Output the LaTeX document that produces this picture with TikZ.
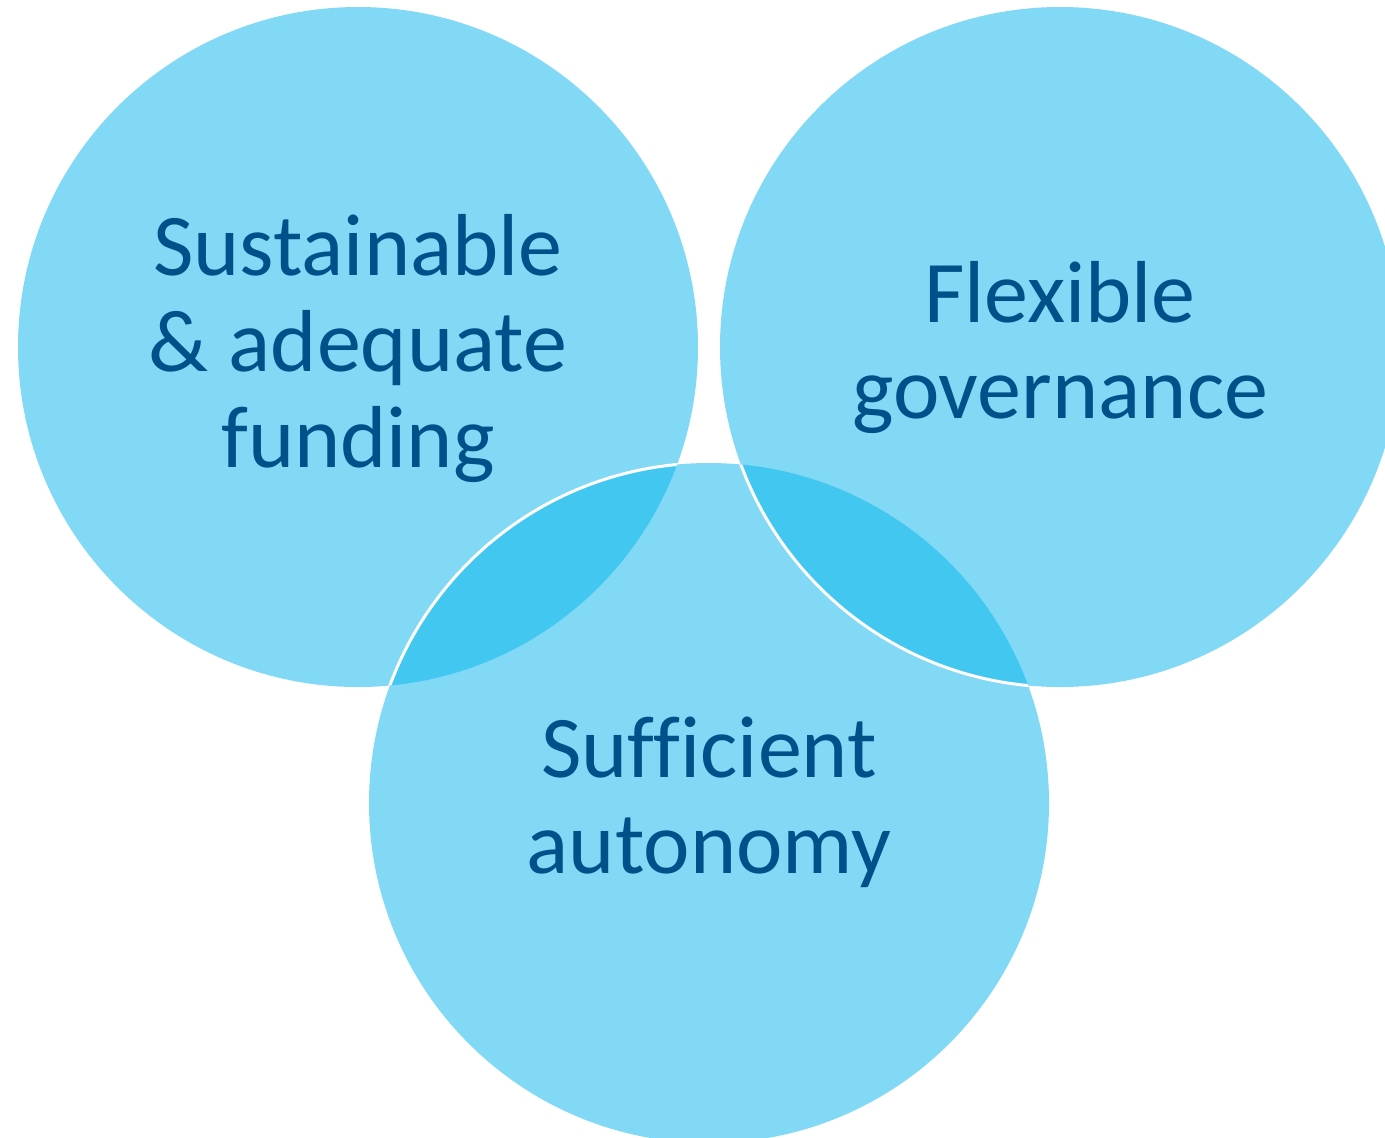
\documentclass[tikz,border=0pt]{standalone}
\usepackage{fontspec}
\setmainfont[Ligatures=NoCommon]{Carlito}
\definecolor{bubble}{RGB}{130,217,245}
\definecolor{lens}{RGB}{66,200,240}
\definecolor{txt}{RGB}{0,80,138}
\begin{document}
\begin{tikzpicture}[x=0.5pt,y=-0.5pt,
  bub/.style={circle,fill=bubble,draw=none,minimum size=340pt,inner sep=0pt},
  lbl/.style={text=txt,align=center,font=\fontsize{44}{48}\selectfont,inner sep=0pt,anchor=base}]
\useasboundingbox (0,0) rectangle (1385,1137);
\node[bub] (L) at (358,347) {};
\node[bub] (B) at (709,803) {};
\node[bub] (R) at (1060,347) {};
% lens overlaps
\begin{scope}
  \clip (L.center) circle[radius=340];
  \fill[lens] (B.center) circle[radius=340];
\end{scope}
\begin{scope}
  \clip (R.center) circle[radius=340];
  \fill[lens] (B.center) circle[radius=340];
\end{scope}
% white edges
\begin{scope}
  \clip (L.center) circle[radius=340];
  \draw[white,line width=1.5pt] (B.center) circle[radius=340];
\end{scope}
\begin{scope}
  \clip (B.center) circle[radius=340];
  \draw[white,line width=1.5pt] (R.center) circle[radius=340];
\end{scope}
\node[lbl] (tL) at (358,467) {Sustainable\\\& adequate\\funding};
\node[lbl] (tR) at (1060,418) {Flexible\\governance};
\node[lbl] (tB) at (709,873) {Sufficient\\autonomy};
\end{tikzpicture}
\end{document}
